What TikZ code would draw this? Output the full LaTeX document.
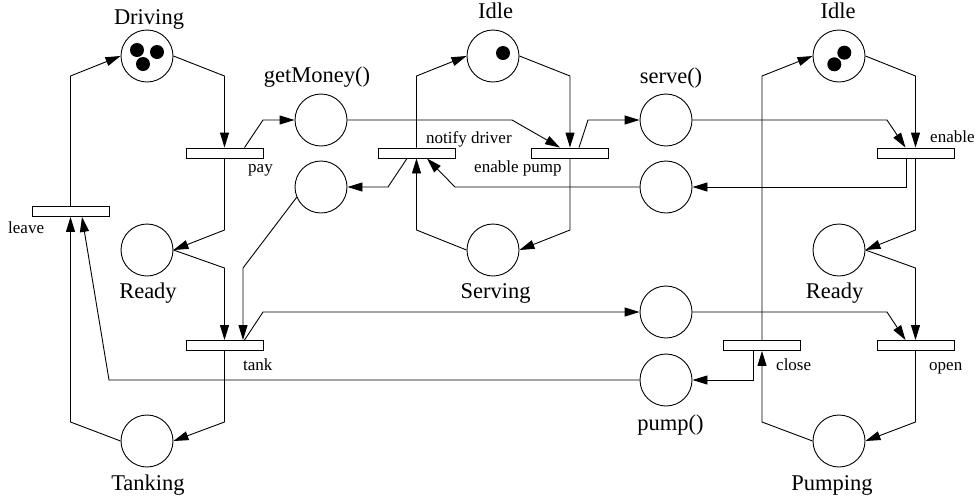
\documentclass[tikz,border=0pt]{standalone}
\usepackage{fontspec}
\setmainfont{Liberation Serif}
\usetikzlibrary{arrows.meta}
\begin{document}
\begin{tikzpicture}[x=1pt,y=-1pt,
  place/.style={circle,draw,line width=0.9pt,minimum size=52pt,inner sep=0pt},
  trans/.style={rectangle,draw,line width=0.9pt,minimum width=77pt,minimum height=10pt,inner sep=0pt,fill=white},
  token/.style={circle,fill=black,minimum size=14pt,inner sep=0pt},
  biglbl/.style={anchor=base,inner sep=0pt,font=\fontsize{22.5}{26}\selectfont},
  smalllbl/.style={anchor=base west,inner sep=0pt,font=\fontsize{17}{20}\selectfont},
  arc/.style={line width=0.9pt,-{Triangle[length=15pt,width=9pt]}}]
\useasboundingbox (0,0) rectangle (975,499);

% places
\node[place] (drv) at (147,56) {};
\node[place] (gm) at (321,120) {};
\node[place] (nd) at (321,187) {};
\node[place] (idl1) at (493,56) {};
\node[place] (srv) at (666,120) {};
\node[place] (ep2) at (666,187) {};
\node[place] (idl2) at (839,56) {};
\node[place] (rdy1) at (147,250) {};
\node[place] (serving) at (493,250) {};
\node[place] (rdy2) at (839,250) {};
\node[place] (ps) at (666,312) {};
\node[place] (pmp) at (666,380) {};
\node[place] (tnk) at (147,441) {};
\node[place] (pumping) at (839,441) {};

% tokens
\node[token] (t1) at (137,50) {};
\node[token] (t2) at (157,52) {};
\node[token] (t3) at (143,64) {};
\node[token] (t4) at (503,53) {};
\node[token] (t5) at (844.3,52.7) {};
\node[token] (t6) at (834.3,64.3) {};

% transitions
\node[trans] (pay) at (224.5,153) {};
\node[trans] (leave) at (70.5,211.5) {};
\node[trans] (notify) at (416.5,153) {};
\node[trans] (enpump) at (570,153) {};
\node[trans] (enable) at (915.5,153) {};
\node[trans] (tank) at (224.5,345.5) {};
\node[trans] (close) at (762,345.5) {};
\node[trans] (open) at (915.5,345.5) {};

% place labels
\node[biglbl] (lDrv) at (149,24.5) {Driving};
\node[biglbl] (lGm) at (317,82) {getMoney()};
\node[biglbl] (lIdl1) at (495.5,18) {Idle};
\node[biglbl] (lSrv) at (671,83) {serve()};
\node[biglbl] (lIdl2) at (838,18) {Idle};
\node[biglbl] (lRdy1) at (148,298) {Ready};
\node[biglbl] (lServing) at (495.5,298) {Serving};
\node[biglbl] (lRdy2) at (834.5,298) {Ready};
\node[biglbl] (lPmp) at (670.5,430) {pump()};
\node[biglbl] (lTnk) at (148,490) {Tanking};
\node[biglbl] (lPumping) at (832,490) {Pumping};

% transition labels
\node[smalllbl] (lPay) at (248,172) {pay};
\node[smalllbl] (lLeave) at (8,233) {leave};
\node[smalllbl] (lNotify) at (426,143) {notify driver};
\node[smalllbl] (lEnpump) at (474,172) {enable pump};
\node[smalllbl] (lEnable) at (930,142) {enable};
\node[smalllbl] (lTank) at (243,370) {tank};
\node[smalllbl] (lClose) at (776,370) {close};
\node[smalllbl] (lOpen) at (929,370) {open};

% connectors
\draw[arc] (drv.east) -- (224.5,76) -- (pay.north);
\draw[arc] ([xshift=20pt]pay.north) -- (263,120) -- (gm.west);
\draw[arc] (pay.south) -- (224.5,230) -- (rdy1.east);
\draw[arc] (rdy1.east) -- (224.5,268) -- (tank.north);
\draw[arc] (nd.203) -- (243,268) -- ([xshift=18.5pt]tank.north);
\draw[arc] ([xshift=20pt]tank.north) -- (263,312) -- (ps.west);
\draw[arc] (tank.south) -- (224.5,422) -- (tnk.east);
\draw[arc] (tnk.west) -- (70.5,422) -- (leave.south);
\draw[arc] (leave.north) -- (70.5,76) -- (drv.west);
\draw[arc] (pmp.west) -- (109,380) -- ([xshift=11.5pt]leave.south);
\draw[arc] (gm.east) -- (512,120) -- ([xshift=-10pt]enpump.north);
\draw[arc] (idl1.east) -- (570,76) -- (enpump.north);
\draw[arc] ([xshift=9pt]enpump.north) -- (588,120) -- (srv.west);
\draw[arc] (enpump.south) -- (570,230) -- (serving.east);
\draw[arc] (serving.west) -- (416.5,230) -- (notify.south);
\draw[arc] (notify.north) -- (416.5,76) -- (idl1.west);
\draw[arc] ([xshift=-9.5pt]notify.south) -- (388,187) -- (nd.east);
\draw[arc] (ep2.west) -- (455,187) -- ([xshift=10.5pt]notify.south);
\draw[arc] (srv.east) -- (887,120) -- ([xshift=-10pt]enable.north);
\draw[arc] (idl2.east) -- (915.5,76) -- (enable.north);
\draw[arc] ([xshift=-9.5pt]enable.south) |- (ep2.east);
\draw[arc] (enable.south) -- (915.5,230) -- (rdy2.east);
\draw[arc] (rdy2.east) -- (915.5,268) -- (open.north);
\draw[arc] (ps.east) -- (887,312) -- ([xshift=-10pt]open.north);
\draw[arc] (open.south) -- (915.5,422) -- (pumping.east);
\draw[arc] (pumping.west) -- (762,422) -- (close.south);
\draw[arc] (close.north) -- (762,76) -- (idl2.west);
\draw[arc] ([xshift=-9pt]close.south) |- (pmp.east);
\end{tikzpicture}
\end{document}
